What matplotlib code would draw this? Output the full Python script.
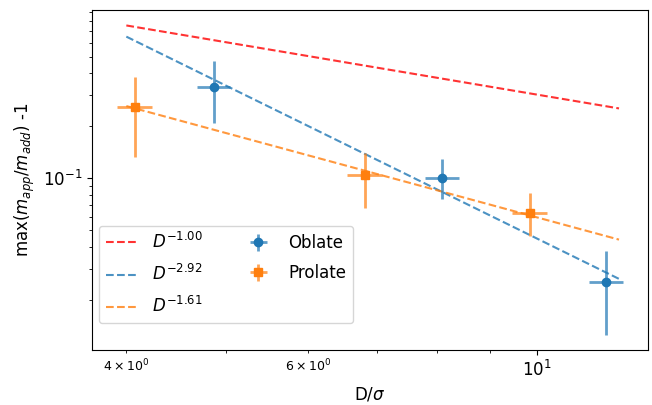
import matplotlib
matplotlib.use("Agg")
import matplotlib.pyplot as plt
import numpy as np

# Data
oblate_x = [4.86, 8.09, 11.66]
oblate_y = [0.336, 0.1005, 0.0254]
oblate_xerr = [0.18, 0.30, 0.44]
oblate_yerr_lo = [0.129, 0.025, 0.0128]
oblate_yerr_hi = [0.133, 0.0275, 0.0125]

prolate_x = [4.08, 6.81, 9.83]
prolate_y = [0.257, 0.1045, 0.063]
prolate_xerr = [0.16, 0.27, 0.38]
prolate_yerr_lo = [0.125, 0.0375, 0.0168]
prolate_yerr_hi = [0.127, 0.0345, 0.0187]

fit_x = [4.0, 12.0]
fit_labels = [r"$D^{-1.00}$", r"$D^{-2.92}$", r"$D^{-1.61}$"]
fit_coef = [3.02, 37.3, 2.42]
fit_exp = [-1.00, -2.92, -1.61]
fit_colors = ["red", "tab:blue", "tab:orange"]

fig = plt.figure(figsize=(6.52, 4.05), dpi=100)
ax = fig.add_axes([92/652, 1-350/405, 556/652, 340/405])

xs = np.array(fit_x)
for c, e, lab, col in zip(fit_coef, fit_exp, fit_labels, fit_colors):
    ax.plot(xs, c * xs**e, "--", color=col, alpha=0.8, label=lab, lw=1.5)

ax.errorbar(oblate_x, oblate_y, xerr=oblate_xerr,
            yerr=[oblate_yerr_lo, oblate_yerr_hi], fmt="o", color="tab:blue",
            ecolor=matplotlib.colors.to_rgba("tab:blue", 0.7), elinewidth=2,
            markersize=6, label="Oblate")
ax.errorbar(prolate_x, prolate_y, xerr=prolate_xerr,
            yerr=[prolate_yerr_lo, prolate_yerr_hi], fmt="s", color="tab:orange",
            ecolor=matplotlib.colors.to_rgba("tab:orange", 0.7), elinewidth=2,
            markersize=6, label="Prolate")

ax.set_xscale("log")
ax.set_yscale("log")
ax.set_xlabel(r"D/$\sigma$", fontsize=12)
ax.set_ylabel(r"max($m_{app}/m_{add}$) -1", fontsize=12)
ax.tick_params(which="major", labelsize=12)
ax.tick_params(which="minor", labelsize=9)

ax.legend(ncol=2, fontsize=12, loc="lower left",
          bbox_to_anchor=(0.0126, 0.079), borderaxespad=0,
          labelspacing=0.72, columnspacing=2.3, handlelength=2.0)

fig.savefig("out.png", dpi=100)
